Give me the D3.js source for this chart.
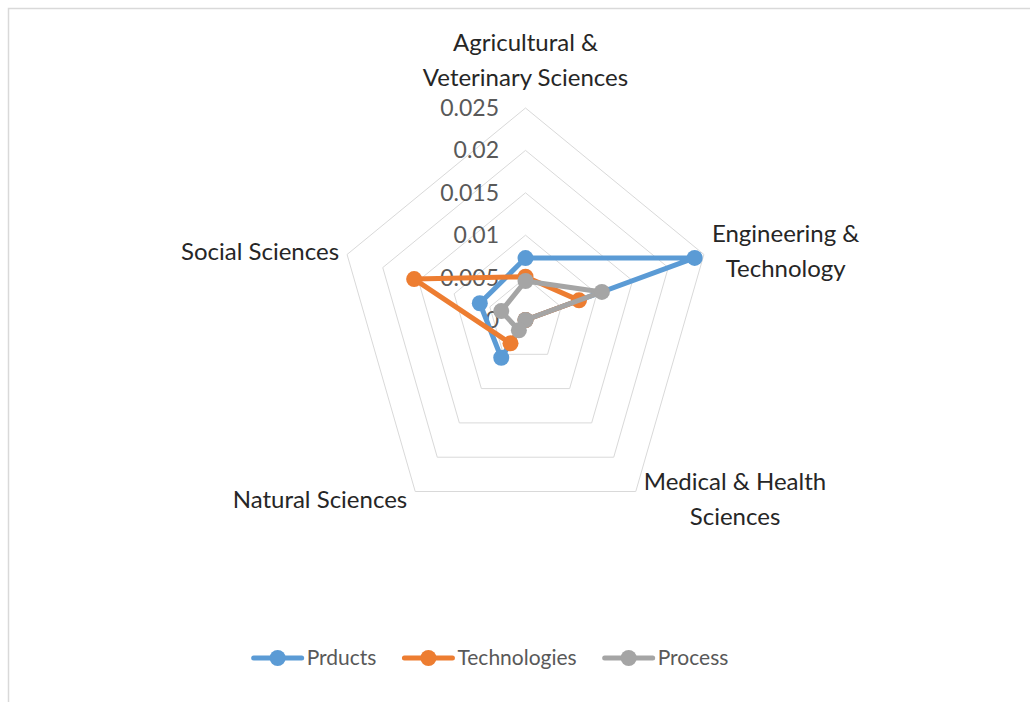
<!DOCTYPE html>
<html>
<head>
<meta charset="utf-8">
<script src="https://cdn.jsdelivr.net/npm/d3@7"></script>
<style>
  html, body { margin: 0; padding: 0; background: #fff; }
  svg { display: block; }
  .cat-label { font-family: Lato, "Open Sans", sans-serif; font-size: 24px; fill: #262626; }
  .tick-label { font-family: Lato, "Open Sans", sans-serif; font-size: 23px; fill: #595959; }
  .legend-label { font-family: Lato, "Open Sans", sans-serif; font-size: 21px; fill: #595959; }
</style>
</head>
<body>
<div id="chart"></div>
<script>
// values
const categories = [
    ['Agricultural &', 'Veterinary Sciences'],
    ['Engineering &', 'Technology'],
    ['Medical & Health', 'Sciences'],
    ['Natural Sciences'],
    ['Social Sciences']
];
const seriesNames = ['Prducts', 'Technologies', 'Process'];
const products = [0.0073, 0.0237, 0, 0.0055, 0.0064];
const technologies = [0.0051, 0.0075, 0, 0.0034, 0.0156];
const process = [0.0046, 0.0107, 0, 0.0015, 0.0034];
const tickValues = [0, 0.005, 0.01, 0.015, 0.02, 0.025];
const tickLabels = ['0', '0.005', '0.01', '0.015', '0.02', '0.025'];
const colors = ['#5b9bd5', '#ed7d31', '#a5a5a5'];

const width = 1030, height = 702;
const cx = 525.5, cy = 320;
const squeeze = 0.885;   // plot area is narrower than it is tall

const svg = d3.select('#chart').append('svg')
    .attr('width', width)
    .attr('height', height);

// frame of the chart area (cropped)
svg.append('path')
    .attr('d', 'M8.5,702V8.5H1030')
    .attr('fill', 'none')
    .attr('stroke', '#d9d9d9')
    .attr('stroke-width', 1.5);

const rScale = d3.scaleLinear().domain([0, 0.025]).range([0, 212]);
const angle = i => i * 2 * Math.PI / categories.length;
const px = (v, i) => cx + squeeze * rScale(v) * Math.sin(angle(i));
const py = (v, i) => cy - rScale(v) * Math.cos(angle(i));

// grid rings
const grid = svg.append('g');
tickValues.filter(t => t > 0).forEach(t => {
    const pts = categories.map((c, i) => [px(t, i), py(t, i)]);
    grid.append('path')
        .attr('d', d3.line()(pts) + 'Z')
        .attr('fill', 'none')
        .attr('stroke', '#d9d9d9')
        .attr('stroke-width', 1);
});

// value axis labels
svg.append('g').selectAll('text')
    .data(tickValues)
    .join('text')
    .classed('tick-label', true)
    .attr('x', cx - 26.5)
    .attr('y', d => py(d, 0))
    .attr('dy', '0.35em')
    .attr('text-anchor', 'end')
    .text((d, i) => tickLabels[i]);

// category labels
const lineGap = 35;
const labels = svg.append('g');
categories.forEach((lines, i) => {
    const vx = px(0.025, i), vy = py(0.025, i);
    const t = labels.append('text').classed('cat-label', true).attr('text-anchor', 'middle');
    lines.forEach((l, j) => t.append('tspan').attr('x', 0).attr('dy', j === 0 ? '0.35em' : lineGap).text(l));
    const w = d3.max(t.selectAll('tspan').nodes(), n => n.getComputedTextLength());
    const blockH = (lines.length - 1) * lineGap;
    const s = Math.sin(angle(i));
    let x, y;
    if (Math.abs(s) < 0.01) {
        x = vx;
        y = vy - 30 - blockH;
    } else {
        x = vx + (s > 0 ? 1 : -1) * (8 + w / 2);
        const below = Math.cos(angle(i)) < 0;
        y = vy - blockH / 2 + (below ? 8 : -3);
    }
    t.attr('transform', `translate(${x},${y})`);
});

// series
const allSeries = [products, technologies, process];
const seriesGroup = svg.append('g');
allSeries.forEach((vals, k) => {
    const pts = vals.map((v, i) => [px(v, i), py(v, i)]);
    seriesGroup.append('path')
        .attr('d', d3.line()(pts) + 'Z')
        .attr('fill', 'none')
        .attr('stroke', colors[k])
        .attr('stroke-width', 5)
        .attr('stroke-linejoin', 'round');
    seriesGroup.selectAll(null)
        .data(vals)
        .join('circle')
        .attr('cx', (v, i) => px(v, i))
        .attr('cy', (v, i) => py(v, i))
        .attr('r', 8)
        .attr('fill', colors[k]);
});

// legend
const legend = svg.append('g');
const legendY = 658, lineLen = 48, textGap = 5, itemGap = 28;
const items = seriesNames.map((name, k) => {
    const g = legend.append('g');
    g.append('line')
        .attr('x1', 0).attr('x2', lineLen)
        .attr('y1', 0).attr('y2', 0)
        .attr('stroke', colors[k]).attr('stroke-width', 5)
        .attr('stroke-linecap', 'round');
    g.append('circle').attr('cx', lineLen / 2).attr('cy', 0).attr('r', 8).attr('fill', colors[k]);
    const txt = g.append('text').classed('legend-label', true)
        .attr('x', lineLen + textGap).attr('y', 0).attr('dy', '0.35em')
        .text(name);
    return { g, w: lineLen + textGap + txt.node().getComputedTextLength() };
});
const total = d3.sum(items, d => d.w) + itemGap * (items.length - 1);
let lx = 491 - total / 2;
items.forEach(it => {
    it.g.attr('transform', `translate(${lx},${legendY})`);
    lx += it.w + itemGap;
});
</script>
</body>
</html>
